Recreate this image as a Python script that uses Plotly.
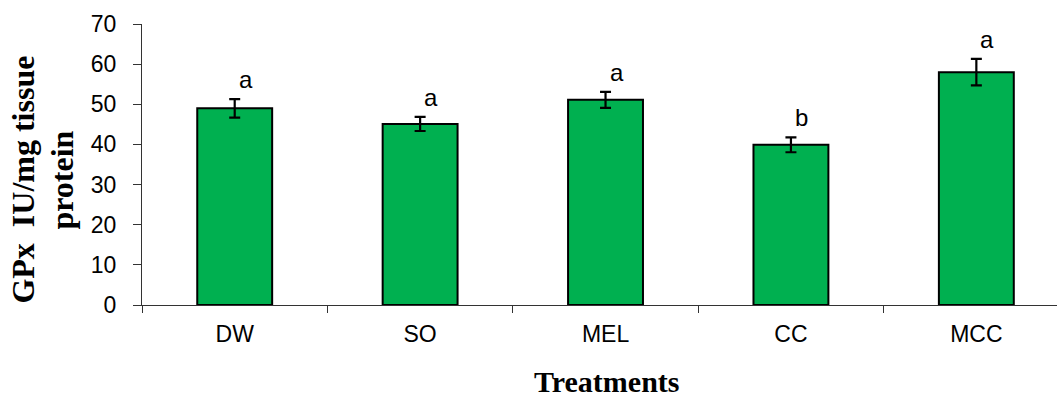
import plotly.graph_objects as go

categories = ["DW", "SO", "MEL", "CC", "MCC"]
means = [49.0, 45.1, 51.1, 39.9, 58.0]
errors = [2.3, 1.75, 2.0, 1.85, 3.3]
letters = ["a", "a", "a", "b", "a"]
y_ticks = [0, 10, 20, 30, 40, 50, 60, 70]
y_title_lines = ["GPx  IU/mg tissue", "protein"]
x_title = "Treatments"

fig = go.Figure()
fig.add_trace(go.Bar(
    x=categories, y=means,
    marker=dict(color="#00B050", line=dict(color="black", width=2)),
    width=0.404,
    error_y=dict(type="data", array=errors, visible=True, color="black", thickness=2.2, width=5.5),
    showlegend=False,
))

for c, m, e, l in zip(categories, means, errors, letters):
    fig.add_annotation(x=c, y=m + e, text=l, showarrow=False, xref="x", yref="y",
                       yanchor="bottom", xshift=11, yshift=4,
                       font=dict(family="Liberation Sans, Arial", size=24, color="black"))

serif = dict(family="Liberation Serif, Times New Roman", color="black")
for line, xpos in zip(y_title_lines, [-0.1302, -0.0876]):
    fig.add_annotation(xref="paper", yref="paper", x=xpos, y=0.4458, xanchor="center", yanchor="middle",
                       text="<b>" + line + "</b>", textangle=-90, showarrow=False,
                       font=dict(size=32, **serif))
fig.add_annotation(xref="paper", yref="paper", x=0.508, y=-0.2718, xanchor="center", yanchor="middle",
                   text="<b>" + x_title + "</b>", showarrow=False,
                   font=dict(size=30, **serif))

fig.update_layout(
    width=1058, height=400,
    margin=dict(l=141.5, r=1, t=24, b=94.5, autoexpand=False),
    plot_bgcolor="white", paper_bgcolor="white",
)
fig.update_xaxes(
    type="category", range=[-0.5, 4.435], tickson="boundaries", automargin=False,
    showline=True, linecolor="#333333", linewidth=1.3,
    ticks="outside", ticklen=7, tickcolor="#333333", tickwidth=1.3,
    tickfont=dict(family="Liberation Sans, Arial", size=23, color="black"),
    ticklabelstandoff=8, showgrid=False, zeroline=False,
)
fig.update_yaxes(
    range=[0, 70], tickvals=y_ticks, automargin=False,
    showline=True, linecolor="#333333", linewidth=1.3,
    ticks="outside", ticklen=8, tickcolor="#333333", tickwidth=1.3,
    tickfont=dict(family="Liberation Sans, Arial", size=23, color="black"),
    ticklabelstandoff=12, showgrid=False, zeroline=False,
)

# remove the default 8px page margin so the figure fills the window exactly
fig.write_html("out.html", config={"displayModeBar": False},
               post_script="document.body.style.margin='0px';")
